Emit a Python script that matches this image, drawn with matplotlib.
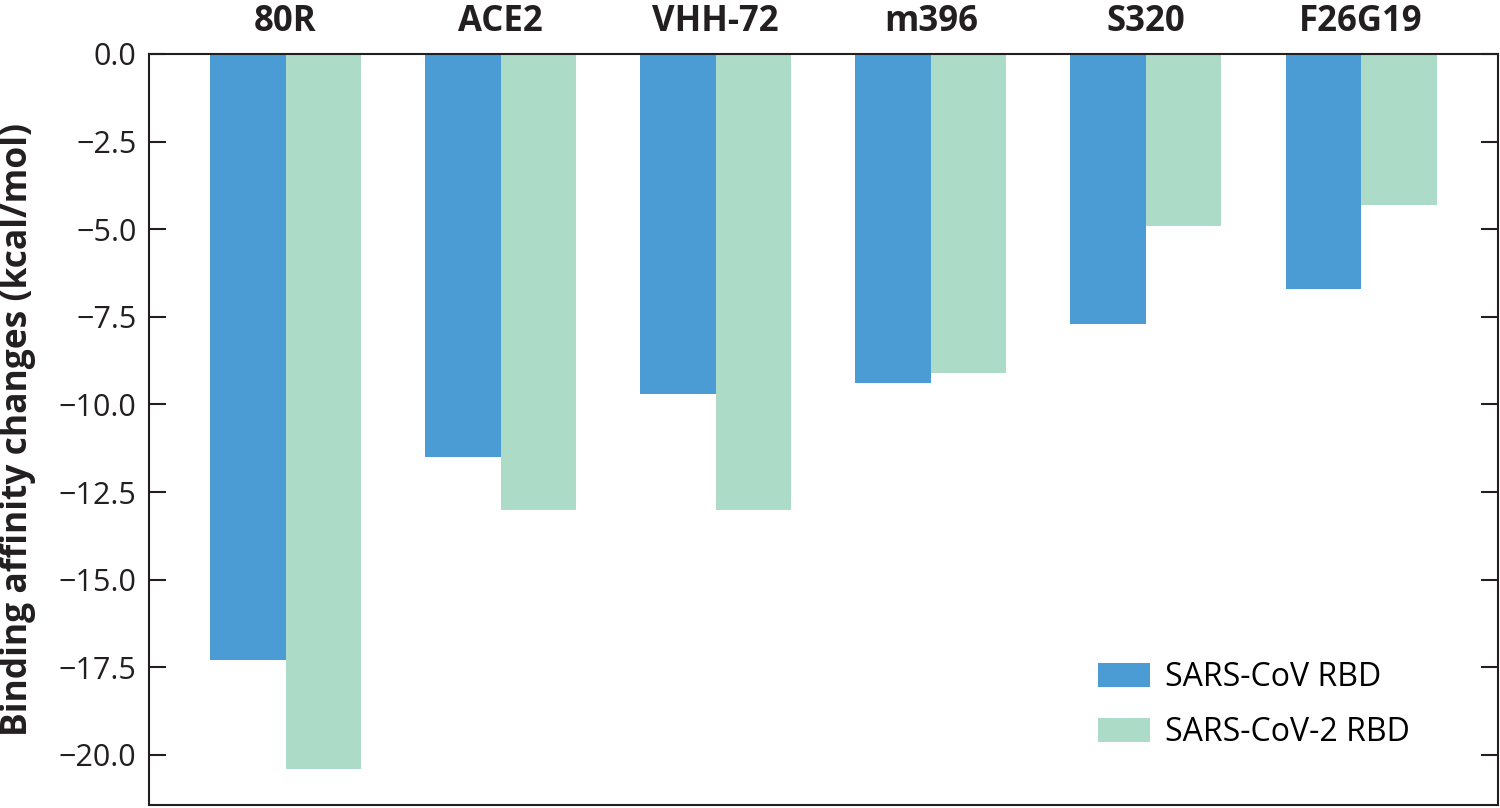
import numpy as np
import matplotlib
matplotlib.use('Agg')
import matplotlib.pyplot as plt

plt.rcParams['font.family'] = ['Open Sans', 'DejaVu Sans']

binders = ['80R', 'ACE2', 'VHH-72', 'm396', 'S320', 'F26G19']
sars_cov = [-17.3, -11.5, -9.7, -9.4, -7.7, -6.7]
sars_cov2 = [-20.4, -13.0, -13.0, -9.1, -4.9, -4.3]
yticks = [0.0, -2.5, -5.0, -7.5, -10.0, -12.5, -15.0, -17.5, -20.0]

fig = plt.figure(figsize=(15, 8.08), dpi=100)
ax = fig.add_axes([0.0993, 0.0037, 0.8994, 0.9295])

x = np.arange(len(binders))
w = 0.351
ax.bar(x - w / 2, sars_cov, w, color='#4b9cd5', label='SARS-CoV RBD')
ax.bar(x + w / 2, sars_cov2, w, color='#acdbc7', label='SARS-CoV-2 RBD')

ax.set_xlim(-0.635, len(binders) - 1 + 0.637)
ax.set_ylim(-21.43, 0)

ax.xaxis.tick_top()
ax.set_xticks(x)
ax.set_xticklabels(binders, fontsize=25, fontweight='bold', color='#231f20')
ax.tick_params(axis='x', length=0, pad=10)

ax.set_yticks(yticks)
ax.set_yticklabels([('%.1f' % v).replace('-', '\u2212') for v in yticks],
                   fontsize=22, color='#231f20')
ax.tick_params(axis='y', direction='in', length=12, width=1.5, pad=9,
               right=True, color='#231f20')
ax.set_ylabel('Binding affinity changes (kcal/mol)', fontsize=25.5,
              fontweight='bold', color='#231f20')
ax.yaxis.set_label_coords(-0.084, 0.5)

for s in ax.spines.values():
    s.set_linewidth(1.5)
    s.set_color('#231f20')

ax.legend(loc='lower right', bbox_to_anchor=(0.935, 0.074), frameon=False,
          fontsize=23, handlelength=1.6, handleheight=0.78, labelspacing=0.7,
          handletextpad=0.5, borderpad=0, borderaxespad=0)

plt.savefig('out.png', dpi=100)
